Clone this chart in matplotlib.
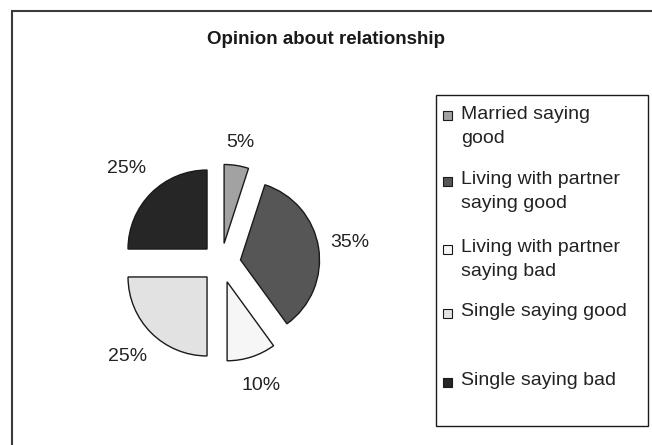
import numpy as np
import matplotlib.pyplot as plt
from matplotlib.patches import Rectangle

plt.rcParams['font.family'] = ['Liberation Sans', 'DejaVu Sans']

# Survey shares (percent)
groups = ['Married saying\ngood',
          'Living with partner\nsaying good',
          'Living with partner\nsaying bad',
          'Single saying good',
          'Single saying bad']
shares = [5, 35, 10, 25, 25]
colors = ['#a2a2a2', '#565656', '#f6f6f6', '#e2e2e2', '#262626']

W, H = 652, 445
fig = plt.figure(figsize=(W / 100, H / 100), dpi=100)
fig.patch.set_facecolor('white')

# pie axes in units of pie radius (radius = 79 px)
R = 79.0
cx, cy = 221, 263
explode = 0.25
ax = fig.add_axes([0, 0, 1, 1])

wedges, texts, autotexts = ax.pie(
    shares, colors=colors, startangle=90, counterclock=False,
    explode=[explode] * len(shares), radius=1,
    autopct='%d%%', pctdistance=1.38,
    wedgeprops=dict(edgecolor='#1a1a1a', linewidth=1.0),
    textprops=dict(fontsize=14, color='#222222'))

# nudge percentage labels so they sit just outside each wedge
label_dist = [1.30, 1.40, 1.38, 1.42, 1.44]
for w, t, d in zip(wedges, autotexts, label_dist):
    mid = np.deg2rad((w.theta1 + w.theta2) / 2)
    t.set_position(((explode + d) * np.cos(mid), (explode + d) * np.sin(mid)))

ax.set_aspect('auto')
ax.set_xlim(-cx / R, (W - cx) / R)
ax.set_ylim(-(H - cy) / R, cy / R)
ax.axis('off')

# chart frame (runs off the right and bottom edges)
fig.add_artist(Rectangle((12 / W, -0.05), 1.1, (H - 11) / H + 0.05,
                         transform=fig.transFigure, fill=False,
                         edgecolor='#3a3a3a', linewidth=1.5))

fig.text(0.5, 1 - 40 / H, 'Opinion about relationship', ha='center',
         va='center', fontsize=13.5, fontweight='bold', color='#1a1a1a')

# legend box
lx0, ly0, lx1, ly1 = 436, 95, 648, 426
fig.add_artist(Rectangle((lx0 / W, 1 - ly1 / H), (lx1 - lx0) / W,
                         (ly1 - ly0) / H, transform=fig.transFigure,
                         fill=False, edgecolor='#1a1a1a', linewidth=1.0))

entry_y = [116, 181, 249, 313, 382]
for label, col, y in zip(groups, colors, entry_y):
    fig.add_artist(Rectangle((443 / W, 1 - (y + 4.5) / H), 9 / W, 9 / H,
                             transform=fig.transFigure, facecolor=col,
                             edgecolor='#1a1a1a', linewidth=0.8))
    fig.text(461 / W, 1 - (y - 10) / H, label, ha='left', va='top',
             fontsize=14, color='#222222', linespacing=1.55)

fig.savefig('out.png', dpi=100)
